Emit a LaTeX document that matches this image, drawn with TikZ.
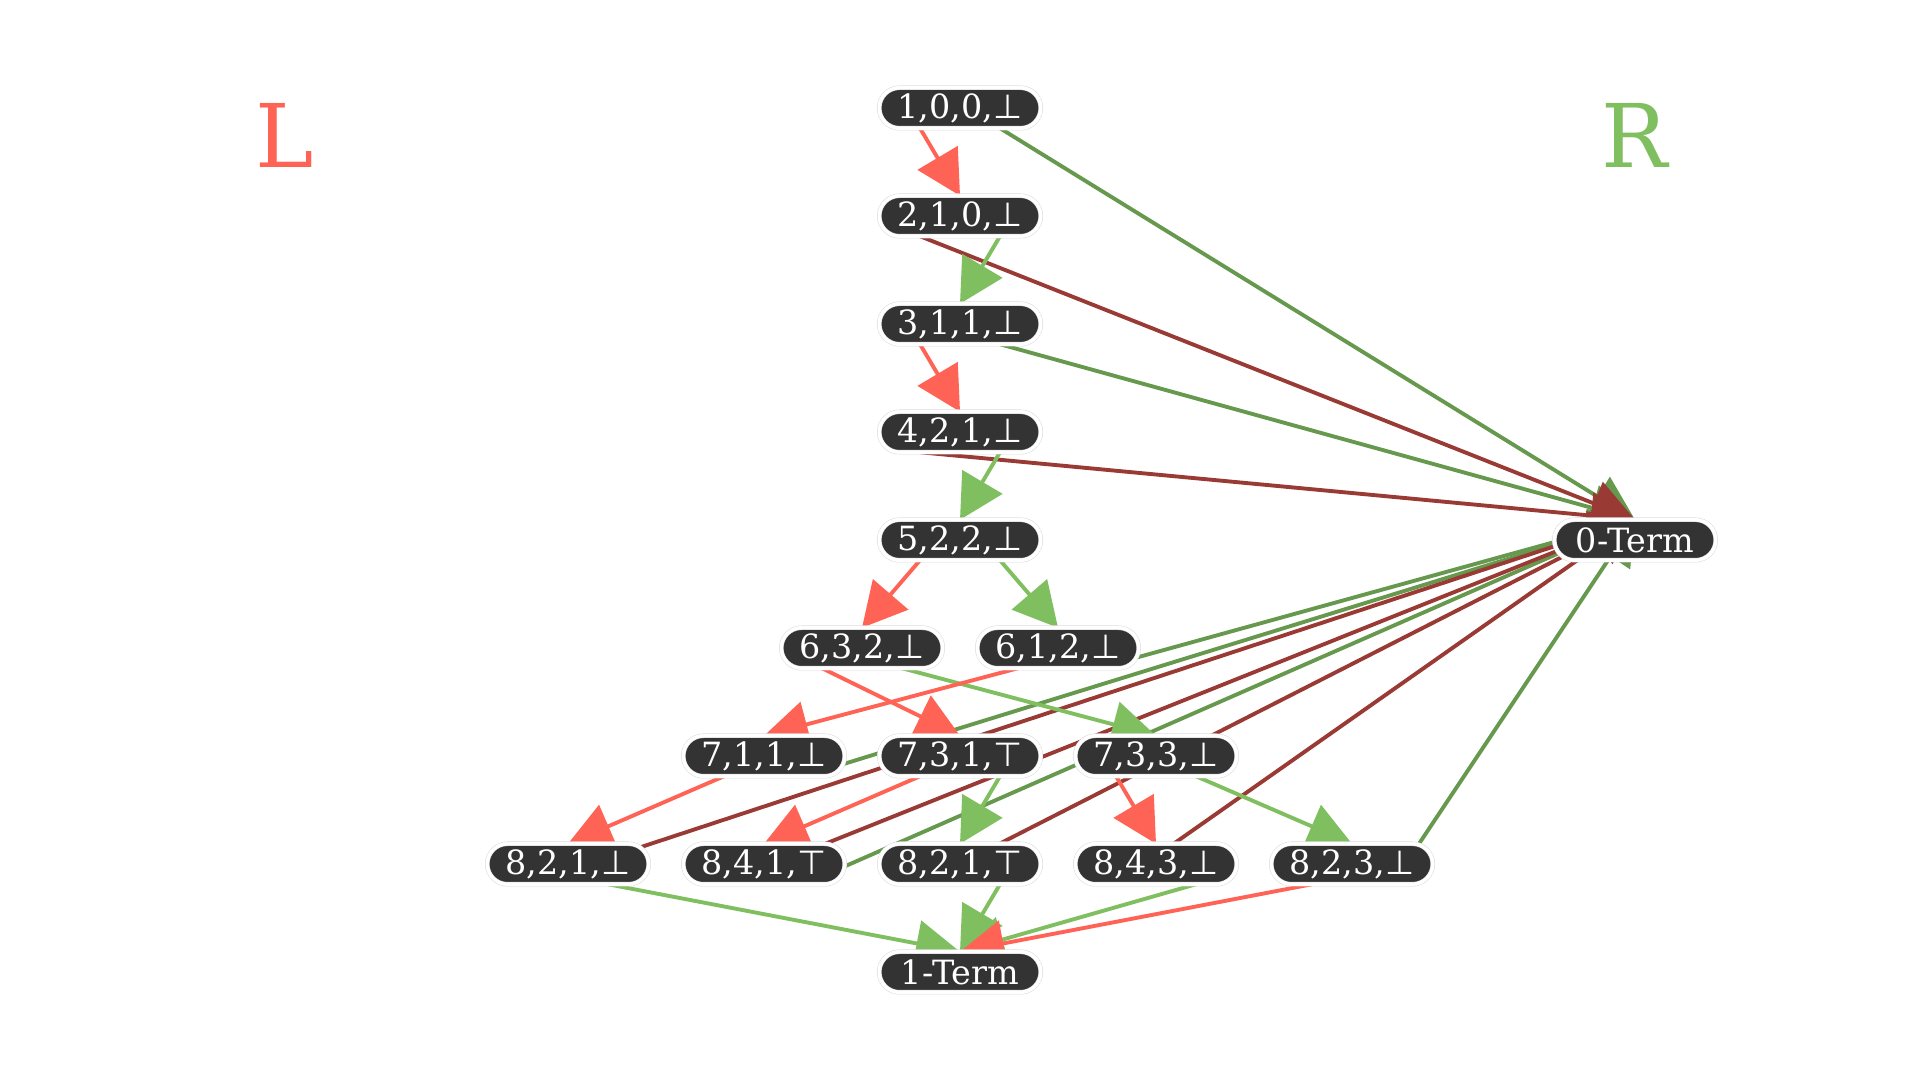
\documentclass[tikz,border=0pt]{standalone}
\usepackage{fontspec}
\setmainfont{DejaVu Serif}
\newfontfamily\glyphfont{DejaVu Sans}
\usetikzlibrary{arrows.meta}
\definecolor{lred}{HTML}{FF6355}
\definecolor{dred}{HTML}{993A35}
\definecolor{lgreen}{HTML}{7FBF60}
\definecolor{dgreen}{HTML}{66994D}
\definecolor{nodefill}{HTML}{333333}
\pgfdeclarelayer{bg}
\pgfsetlayers{bg,main}
\newcommand{\fls}{{\glyphfont ⊥}}
\newcommand{\tru}{{\glyphfont ⊤}}
\tikzset{
  bddnode/.style={rectangle, rounded corners=0.2025cm, minimum width=1.615cm, minimum height=0.405cm,
    inner sep=0pt, outer sep=0pt, fill=nodefill, draw=gray!30, double=white,
    double distance=0.035cm, line width=0.005cm, text=white, font=\fontsize{9.5}{11}\selectfont},
  sidelabel/.style={font=\fontsize{25}{30}\selectfont, inner sep=0pt},
  edge/.style={line width=1.1pt, -{Triangle[length=0.44cm,width=0.46cm]}},
  ledge/.style={edge, draw=lred},
  redge/.style={edge, draw=lgreen},
  lzero/.style={edge, draw=dred},
  rzero/.style={edge, draw=dgreen}
}
\begin{document}
\begin{tikzpicture}
  \useasboundingbox (0,0) rectangle (19.2,10.8);
  % one column per half step of 0.98, one row per 1.08
  \node[bddnode] (n1) at (9.6,9.72) {1,0,0,\fls};
  \node[bddnode] (n2) at (9.6,8.64) {2,1,0,\fls};
  \node[bddnode] (n3) at (9.6,7.56) {3,1,1,\fls};
  \node[bddnode] (n4) at (9.6,6.48) {4,2,1,\fls};
  \node[bddnode] (n5) at (9.6,5.40) {5,2,2,\fls};
  \node[bddnode] (n6a) at (8.62,4.32) {6,3,2,\fls};
  \node[bddnode] (n6b) at (10.58,4.32) {6,1,2,\fls};
  \node[bddnode] (n7a) at (7.64,3.24) {7,1,1,\fls};
  \node[bddnode] (n7b) at (9.6,3.24) {7,3,1,\tru};
  \node[bddnode] (n7c) at (11.56,3.24) {7,3,3,\fls};
  \node[bddnode] (n8a) at (5.68,2.16) {8,2,1,\fls};
  \node[bddnode] (n8b) at (7.64,2.16) {8,4,1,\tru};
  \node[bddnode] (n8c) at (9.6,2.16) {8,2,1,\tru};
  \node[bddnode] (n8d) at (11.56,2.16) {8,4,3,\fls};
  \node[bddnode] (n8e) at (13.52,2.16) {8,2,3,\fls};
  \node[bddnode] (zero) at (16.35,5.40) {0-Term};
  \node[bddnode] (one) at (9.6,1.08) {1-Term};
  \node[sidelabel, text=lred] (lside) at (2.85,9.45) {L};
  \node[sidelabel, text=lgreen] (rside) at (16.35,9.45) {R};
  \begin{pgfonlayer}{bg}
    \fill[white] (0,0) rectangle (19.2,10.8);
    \foreach \s in {n1, n3, n6b, n7a, n8b, n8e}
      \draw[rzero] ([xshift=4mm]\s.south) -- (zero.north);
    \foreach \s in {n2, n4, n8a, n8b, n8c, n8d}
      \draw[lzero] ([xshift=-4mm]\s.south) -- (zero.north);
    \foreach \s/\t in {n2/n3, n4/n5, n5/n6b, n6a/n7c, n7b/n8c, n7c/n8e, n8a/one, n8c/one, n8d/one}
      \draw[redge] ([xshift=4mm]\s.south) -- (\t.north);
    \foreach \s/\t in {n1/n2, n3/n4, n5/n6a, n6a/n7b, n6b/n7a, n7a/n8a, n7b/n8b, n7c/n8d, n8e/one}
      \draw[ledge] ([xshift=-4mm]\s.south) -- (\t.north);
  \end{pgfonlayer}
\end{tikzpicture}
\end{document}
